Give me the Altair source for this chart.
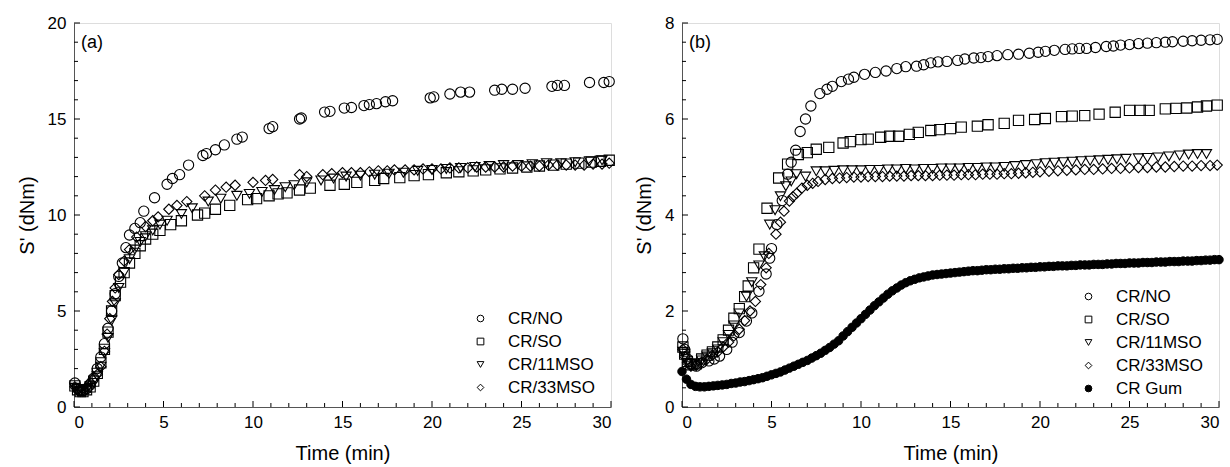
import altair as alt
import pandas as pd

# ---------------- Panel (a) data ----------------
a_no_t = [0.05,0.2,0.35,0.5,0.7,0.9,1.1,1.3,1.5,1.7,1.9,2.1,2.3,2.5,2.7,2.9,3.1,3.4,3.7,3.9,4.5,5.2,5.5,5.9,6.4,7.2,7.4,7.9,8.4,9.1,9.4,10.9,11.1,12.6,12.7,14.0,14.3,15.1,15.5,16.2,16.5,16.9,17.4,17.8,19.9,20.1,21.0,21.6,22.1,23.5,23.9,24.5,25.2,26.7,27.0,27.4,28.8,29.6,29.9]
a_no_v = [1.25,0.95,0.85,0.85,0.95,1.15,1.5,2.0,2.6,3.3,4.1,5.0,5.9,6.8,7.5,8.3,8.96,9.3,9.6,10.2,10.9,11.6,11.9,12.1,12.6,13.1,13.2,13.4,13.65,13.95,14.06,14.5,14.6,15.0,15.05,15.36,15.4,15.57,15.6,15.7,15.75,15.8,15.9,15.95,16.1,16.15,16.3,16.4,16.4,16.5,16.55,16.55,16.6,16.7,16.75,16.75,16.9,16.9,16.95]

a_so_t = [0.05,0.2,0.35,0.5,0.7,0.9,1.1,1.3,1.5,1.7,1.9,2.1,2.3,2.6,2.8,3.1,3.4,3.7,4.0,4.4,4.8,5.4,6.0,6.9,7.3,7.9,8.7,9.7,10.2,10.9,11.4,11.9,12.6,13.2,14.3,15.1,15.8,16.8,17.3,18.2,19.0,19.8,20.8,21.5,22.3,23.0,23.8,24.5,25.3,26.0,26.8,27.5,28.2,28.9,29.4,29.9]
a_so_v = [1.1,0.9,0.8,0.8,0.9,1.05,1.35,1.75,2.3,3.0,3.9,5.0,5.8,6.5,7.0,7.5,8.0,8.4,8.75,9.0,9.2,9.5,9.7,10.0,10.1,10.3,10.5,10.8,10.85,11.0,11.1,11.15,11.3,11.4,11.55,11.6,11.7,11.8,11.9,11.95,12.05,12.1,12.2,12.25,12.3,12.35,12.4,12.45,12.5,12.55,12.6,12.65,12.7,12.75,12.8,12.85]

a_11_t = [0.05,0.2,0.35,0.5,0.7,0.9,1.1,1.3,1.5,1.7,1.9,2.1,2.3,2.5,2.8,3.1,3.4,3.7,4.0,4.4,4.8,5.2,6.0,6.6,7.5,8.2,9.1,9.8,10.5,11.2,11.8,12.3,13.0,13.8,14.5,15.2,16.0,16.8,17.6,18.4,19.2,20.0,20.8,21.6,22.4,23.2,24.0,24.8,25.6,26.4,27.2,28.0,28.8,29.5]
a_11_v = [1.0,0.85,0.8,0.8,0.88,1.0,1.25,1.6,2.1,2.8,3.6,4.5,5.4,6.2,7.0,7.7,8.2,8.6,8.9,9.2,9.5,9.7,10.05,10.35,10.7,10.85,11.0,11.1,11.2,11.3,11.45,11.55,11.7,11.8,11.9,12.0,12.05,12.1,12.15,12.2,12.3,12.35,12.4,12.45,12.5,12.55,12.6,12.6,12.65,12.7,12.7,12.75,12.8,12.85]

a_33_t = [0.05,0.2,0.35,0.5,0.7,0.9,1.1,1.3,1.5,1.7,1.85,2.0,2.15,2.3,2.5,2.8,3.1,3.5,4.0,4.4,4.7,5.3,5.75,6.3,7.3,7.9,8.5,9.0,10.0,10.7,11.1,12.6,13.0,13.9,14.4,15.0,15.5,16.0,16.5,17.0,17.5,17.9,18.5,19.0,19.5,20.0,20.5,21.0,21.5,22.0,22.5,23.0,23.5,24.0,24.5,25.0,25.5,26.0,26.5,27.0,27.5,28.0,28.5,29.0,29.5,29.9]
a_33_v = [1.05,0.9,0.85,0.9,1.05,1.3,1.5,1.7,2.1,2.9,3.8,4.6,5.5,6.2,6.9,7.6,8.2,8.85,9.4,9.7,9.9,10.3,10.5,10.7,11.0,11.3,11.45,11.55,11.7,11.8,11.85,12.1,12.0,12.1,12.15,12.2,12.2,12.2,12.25,12.3,12.3,12.35,12.35,12.35,12.4,12.4,12.4,12.45,12.45,12.45,12.5,12.5,12.5,12.5,12.55,12.55,12.55,12.55,12.6,12.6,12.6,12.6,12.6,12.65,12.65,12.7]

# ---------------- Panel (b) data ----------------
b_no_t = [0.05,0.15,0.3,0.5,0.8,1.1,1.5,1.8,2.1,2.5,2.8,3.2,3.6,3.9,4.3,4.7,4.9,5.0,5.3,5.6,5.9,6.1,6.35,6.6,6.9,7.2,7.7,8.1,8.4,8.9,9.3,9.6,10.2,10.8,11.4,12.0,12.5,13.1,13.5,13.9,14.3,14.8,15.4,15.8,16.3,16.7,17.1,17.6,18.2,18.8,19.4,19.9,20.3,20.8,21.4,21.8,22.2,22.6,23.1,23.7,24.1,24.5,25.0,25.5,26.0,26.5,27.0,27.4,28.0,28.5,29.0,29.5,29.9]
b_no_v = [1.42,1.2,1.0,0.9,0.85,0.92,0.96,1.0,1.06,1.2,1.35,1.55,1.79,1.96,2.41,2.77,3.1,3.3,3.8,4.3,4.85,5.1,5.35,5.74,6.0,6.27,6.53,6.62,6.68,6.78,6.83,6.87,6.93,6.97,7.0,7.05,7.09,7.1,7.13,7.17,7.19,7.2,7.22,7.25,7.27,7.28,7.3,7.32,7.34,7.35,7.37,7.39,7.41,7.43,7.45,7.46,7.47,7.47,7.49,7.51,7.52,7.54,7.55,7.57,7.58,7.59,7.6,7.61,7.62,7.63,7.64,7.65,7.66]

b_so_t = [0.05,0.15,0.3,0.5,0.8,1.1,1.4,1.7,2.0,2.3,2.6,2.9,3.2,3.5,3.7,4.0,4.3,4.75,5.4,5.9,6.5,7.0,7.5,8.2,9.0,9.4,10.0,10.4,11.1,11.6,12.1,12.7,13.2,13.9,14.4,15.0,15.6,16.5,17.1,18.0,18.8,19.7,20.3,21.2,21.8,22.5,23.3,24.2,25.0,25.6,26.1,27.0,27.6,28.2,28.8,29.3,29.9]
b_so_v = [1.25,1.1,0.95,0.88,0.9,1.0,1.08,1.15,1.25,1.4,1.6,1.85,2.05,2.3,2.52,2.9,3.29,4.14,4.77,5.06,5.26,5.3,5.37,5.41,5.5,5.53,5.57,5.58,5.62,5.64,5.64,5.68,5.72,5.76,5.78,5.8,5.83,5.85,5.88,5.91,5.97,5.99,6.01,6.05,6.06,6.07,6.1,6.14,6.18,6.18,6.18,6.21,6.22,6.23,6.25,6.27,6.29]

b_11_t = [0.05,0.15,0.3,0.5,0.8,1.1,1.4,1.7,2.0,2.3,2.6,2.9,3.2,3.6,3.9,4.3,4.6,4.9,5.2,5.5,5.8,6.1,6.4,6.9,7.5,8.0,8.5,9.0,9.5,10.0,10.5,11.0,11.5,12.0,12.5,13.0,13.5,14.0,14.5,15.0,15.5,16.0,16.5,17.0,17.5,18.0,18.6,19.2,19.8,20.3,20.8,21.3,21.8,22.3,22.8,23.3,23.8,24.3,24.8,25.5,26.0,26.6,27.2,27.8,28.3,28.8,29.3]
b_11_v = [1.15,1.05,0.92,0.85,0.88,0.97,1.05,1.12,1.2,1.35,1.5,1.7,1.95,2.3,2.6,2.95,3.14,3.8,4.1,4.39,4.6,4.7,4.85,4.8,4.91,4.91,4.92,4.93,4.93,4.93,4.94,4.94,4.95,4.95,4.96,4.95,4.96,4.96,4.97,4.97,4.97,4.98,4.98,4.99,4.99,5.0,5.02,5.04,5.06,5.08,5.09,5.1,5.11,5.12,5.13,5.14,5.15,5.16,5.17,5.18,5.19,5.2,5.22,5.24,5.26,5.27,5.27]

b_33_t = [0.05,0.15,0.3,0.5,0.8,1.1,1.4,1.7,2.0,2.3,2.6,2.9,3.2,3.5,3.8,4.1,4.4,4.7,4.85,5.25,5.5,5.7,6.0,6.2,6.4,6.7,7.0,7.3,7.6,8.0,8.4,8.8,9.2,9.6,10.0,10.4,10.8,11.2,11.6,12.0,12.4,12.8,13.2,13.6,14.0,14.4,14.8,15.2,15.6,16.0,16.4,16.8,17.2,17.6,18.0,18.4,18.8,19.2,19.6,20.0,20.5,21.0,21.5,22.0,22.5,23.0,23.5,24.0,24.5,25.0,25.5,26.0,26.5,27.0,27.5,28.0,28.5,29.0,29.5,29.9]
b_33_v = [1.2,1.05,0.92,0.85,0.87,0.93,1.0,1.08,1.15,1.25,1.35,1.48,1.62,1.8,2.0,2.2,2.55,2.9,3.2,3.6,3.85,4.08,4.29,4.38,4.45,4.56,4.62,4.66,4.7,4.74,4.76,4.77,4.78,4.79,4.79,4.8,4.8,4.8,4.81,4.81,4.81,4.82,4.82,4.82,4.82,4.83,4.83,4.83,4.84,4.84,4.84,4.85,4.85,4.85,4.86,4.86,4.87,4.88,4.89,4.9,4.91,4.92,4.93,4.94,4.95,4.95,4.96,4.97,4.97,4.98,4.99,4.99,5.0,5.0,5.01,5.02,5.02,5.03,5.03,5.04]

b_gum_t = [i * 0.25 for i in range(121)]
b_gum_v = [0.74,0.58,0.47,0.43,0.42,0.42,0.43,0.44,0.45,0.46,0.47,0.49,0.50,0.52,0.53,0.55,
           0.57,0.59,0.61,0.64,0.67,0.70,0.73,0.77,0.81,0.85,0.89,0.93,0.97,1.02,1.07,1.12,
           1.18,1.24,1.31,1.38,1.48,1.57,1.66,1.75,1.84,1.93,2.02,2.11,2.19,2.27,2.35,2.42,
           2.48,2.54,2.59,2.63,2.66,2.69,2.71,2.73,2.75,2.76,2.77,2.78,2.79,2.80,2.81,2.82,
           2.83,2.84,2.84,2.85,2.86,2.86,2.87,2.87,2.88,2.88,2.89,2.89,2.90,2.90,2.91,2.91,
           2.92,2.92,2.93,2.93,2.94,2.94,2.94,2.95,2.95,2.96,2.96,2.96,2.97,2.97,2.97,2.98,
           2.98,2.99,2.99,2.99,3.00,3.00,3.00,3.01,3.01,3.01,3.02,3.02,3.02,3.03,3.03,3.03,
           3.04,3.04,3.04,3.05,3.05,3.06,3.06,3.07,3.07]

names_a = ["CR/NO", "CR/SO", "CR/11MSO", "CR/33MSO"]
names_b = ["CR/NO", "CR/SO", "CR/11MSO", "CR/33MSO", "CR Gum"]
shapes_b = ["circle", "square", "triangle-down", "diamond", "circle"]
fills_b = ["transparent", "transparent", "transparent", "transparent", "black"]
strokes_b = ["black", "black", "black", "black", "black"]

x_major = [0, 5, 10, 15, 20, 25, 30]
x_minor = [i for i in range(31) if i % 5 != 0]
ya_major = [0, 5, 10, 15, 20]
ya_minor = [i for i in range(21) if i % 5 != 0]
yb_major = [0, 2, 4, 6, 8]
yb_minor = [round(i * 0.4, 1) for i in range(21) if i % 5 != 0]


def frame(pairs, names):
    parts = []
    for (t, v), n in zip(pairs, names):
        d = pd.DataFrame({"t": t, "v": v})
        d["series"] = n
        parts.append(d)
    return pd.concat(parts, ignore_index=True)


df_a = frame([(a_no_t, a_no_v), (a_so_t, a_so_v), (a_11_t, a_11_v), (a_33_t, a_33_v)], names_a)
df_b_open = frame([(b_no_t, b_no_v), (b_so_t, b_so_v), (b_11_t, b_11_v), (b_33_t, b_33_v)], names_a)
df_b_gum = frame([(b_gum_t, b_gum_v)], ["CR Gum"])

W, H = 537, 384
FONT = "Liberation Sans"
AXC = "#555555"


def panel(df_open, df_filled, names, ydom, ymajor, yminor, label, leg_y):
    n = len(names)
    xs = alt.X("t:Q", scale=alt.Scale(domain=[0, 30], nice=False),
               axis=alt.Axis(values=x_major, ticks=False, grid=False, title="Time (min)",
                             labelFontSize=17, titleFontSize=20, labelPadding=7, titlePadding=13,
                             titleFontWeight="normal", domainColor=AXC, labelColor="black",
                             labelFont=FONT, titleFont=FONT))
    ys = alt.Y("v:Q", scale=alt.Scale(domain=ydom, nice=False),
               axis=alt.Axis(values=ymajor, ticks=False, grid=False, title="S' (dNm)",
                             labelFontSize=17, titleFontSize=20, labelPadding=8, titlePadding=10,
                             titleFontWeight="normal", domainColor=AXC, labelColor="black",
                             labelFont=FONT, titleFont=FONT))
    leg = alt.Legend(title=None, orient="none", legendX=398, legendY=leg_y,
                     labelFontSize=17, labelFont=FONT, labelColor="black",
                     symbolSize=45, symbolStrokeColor="black", symbolStrokeWidth=1,
                     labelOffset=19, rowPadding=5, padding=0)
    shape_enc = alt.Shape("series:N", scale=alt.Scale(domain=names, range=shapes_b[:n]), legend=leg)
    fill_enc = alt.Fill("series:N", scale=alt.Scale(domain=names, range=fills_b[:n]), legend=leg)
    stroke_enc = alt.Stroke("series:N", scale=alt.Scale(domain=names, range=strokes_b[:n]), legend=leg)
    layers = []
    xmaj = alt.Chart(pd.DataFrame({"t": x_major})).mark_rule(color="black", strokeWidth=1).encode(
        x=xs, y=alt.value(H), y2=alt.value(H - 6))
    xmin = alt.Chart(pd.DataFrame({"t": x_minor})).mark_rule(color="black", strokeWidth=1).encode(
        x=xs, y=alt.value(H), y2=alt.value(H - 4))
    ymaj = alt.Chart(pd.DataFrame({"v": ymajor})).mark_rule(color="black", strokeWidth=1).encode(
        y=ys, x=alt.value(0), x2=alt.value(6))
    ymin = alt.Chart(pd.DataFrame({"v": yminor})).mark_rule(color="black", strokeWidth=1).encode(
        y=ys, x=alt.value(0), x2=alt.value(4))
    layers += [xmaj, xmin, ymaj, ymin]
    if df_filled is not None:
        layers.append(alt.Chart(df_filled).mark_point(
            filled=True, strokeWidth=1, opacity=1, size=72).encode(
            x=xs, y=ys, shape=shape_enc, fill=fill_enc, stroke=stroke_enc))
    layers.append(alt.Chart(df_open).mark_point(
        filled=True, strokeWidth=1.1, opacity=1, size=105).encode(
        x=xs, y=ys, shape=shape_enc, fill=fill_enc, stroke=stroke_enc))
    lab = alt.Chart(pd.DataFrame({"s": [label]})).mark_text(
        align="left", baseline="middle", fontSize=18, font=FONT, color="black").encode(
        text="s:N", x=alt.value(7), y=alt.value(20))
    layers.append(lab)
    return alt.layer(*layers).properties(width=W, height=H)


pa = panel(df_a, None, names_a, [0, 20], ya_major, ya_minor, "(a)", 287)
pb = panel(df_b_open, df_b_gum, names_b, [0, 8], yb_major, yb_minor, "(b)", 265)

chart = alt.hconcat(pa, pb, spacing=16).resolve_scale(
    shape="independent", fill="independent", stroke="independent", x="independent", y="independent"
).properties(padding={"left": 16, "top": 13, "right": 2, "bottom": 2}).configure_view(
    stroke=AXC, strokeWidth=1
).configure(font=FONT, background="white")

chart.save("out.html", embed_options={"renderer": "svg", "actions": False})
